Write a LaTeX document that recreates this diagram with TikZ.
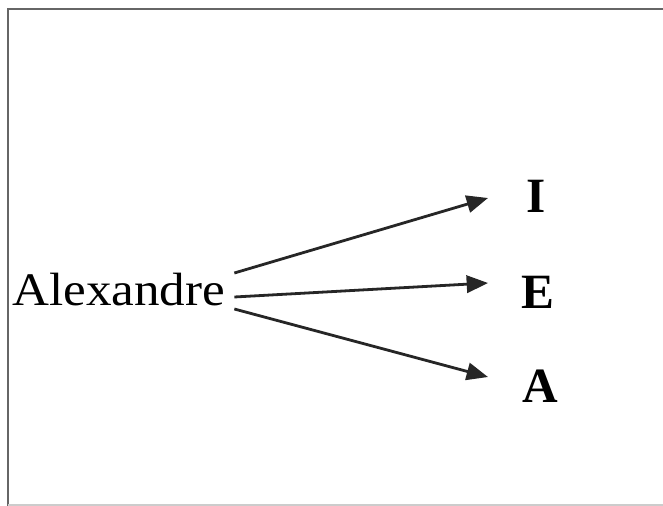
\documentclass[tikz,border=0pt]{standalone}
\usepackage{fontspec}
\setmainfont{Liberation Serif}
\usetikzlibrary{arrows.meta}
\begin{document}
\begin{tikzpicture}[x=0.75pt, y=-0.75pt,
  word/.style={inner sep=0pt, font=\fontsize{35}{35}\selectfont},
  letter/.style={inner sep=0pt, font=\fontsize{37}{37}\selectfont\bfseries},
  arr/.style={line width=2.1pt, draw=black!85, -{Triangle[length=16pt, width=13pt]}}]
  \useasboundingbox (0,0) rectangle (663,506);
  % frame
  \draw[line width=1.6pt, draw=black!60] (8,506) -- (8,9) -- (663,9);
  \draw[line width=1pt, draw=black!20] (8,505) -- (663,505);
  % labels
  \node[word, anchor=base west] (alex) at (12,305) {\scalebox{1.095}[1]{Alexandre}};
  \node[letter, anchor=base] (i) at (536,212) {I};
  \node[letter, anchor=base] (e) at (538,308) {E};
  \node[letter, anchor=base] (a) at (540,402) {A};
  % arrows
  \draw[arr] ([shift={(9,-32)}]alex.base east) -- ([shift={(-48,-14)}]i.base);
  \draw[arr] ([shift={(9,-8)}]alex.base east) -- ([shift={(-50,-25)}]e.base);
  \draw[arr] ([shift={(9,4)}]alex.base east) -- ([shift={(-52,-25)}]a.base);
\end{tikzpicture}
\end{document}
